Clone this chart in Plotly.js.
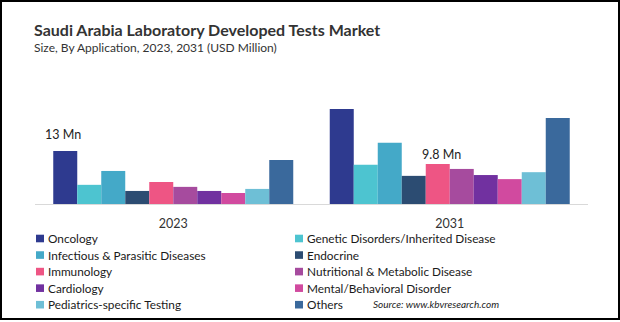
<!DOCTYPE html>
<html>
<head>
<meta charset="utf-8">
<script src="https://cdn.plot.ly/plotly-3.0.1.min.js"></script>
<style>
  html, body { margin: 0; padding: 0; background: #fff; }
  #wrap { position: relative; width: 620px; height: 322px; }
  #chart { position: absolute; left: 0; top: 0; width: 620px; height: 322px; }
  #frame { position: absolute; left: 0; top: 0; width: 620px; height: 320px; box-sizing: border-box; border: 2px solid #000; pointer-events: none; }
</style>
</head>
<body>
<div id="wrap"><div id="chart"></div><div id="frame"></div></div>
<script>
const years = ["2023", "2031"];
const segments = [
  "Oncology",
  "Genetic Disorders/Inherited Disease",
  "Infectious & Parasitic Diseases",
  "Endocrine",
  "Immunology",
  "Nutritional & Metabolic Disease",
  "Cardiology",
  "Mental/Behavioral Disorder",
  "Pediatrics-specific Testing",
  "Others"
];
const values2023 = [13.0, 4.7, 8.1, 3.2, 5.4, 4.2, 3.2, 2.7, 3.7, 10.8];
const values2031 = [23.3, 9.6, 15.0, 6.9, 9.8, 8.6, 7.1, 6.1, 7.8, 21.1];
const colors = ["#2E3A8F", "#4DC4D0", "#44A9C8", "#2C4C72", "#EE5584", "#A64B9E", "#7131A0", "#D14A9F", "#6EBFD6", "#3A699C"];

const FONT = "Lato, 'Open Sans', sans-serif";

// plot-area geometry (pixels) used to place the hand-built legend
const W = 620, H = 322;
const M = { l: 35, r: 32, t: 100, b: 118 };
const PW = W - M.l - M.r, PH = H - M.t - M.b;
const px = (x) => (x - M.l) / PW;
const py = (y) => (H - M.b - y) / PH;

const traces = segments.map((name, i) => ({
  type: "bar",
  name: name,
  x: years,
  y: [values2023[i], values2031[i]],
  marker: { color: colors[i], line: { width: 0 } },
  hoverinfo: "x+y+name",
  showlegend: false
}));

// legend: two columns, row-major order
const legendShapes = [];
const legendTexts = [];
segments.forEach((name, i) => {
  const col = i % 2, row = Math.floor(i / 2);
  const sx = col === 0 ? 36 : 295;
  const cy = 238.5 + row * 16.55;
  legendShapes.push({
    type: "rect", xref: "paper", yref: "paper",
    x0: px(sx), x1: px(sx + 8), y0: py(cy + 3.8), y1: py(cy - 3.8),
    fillcolor: colors[i], line: { width: 0 }, layer: "above"
  });
  legendTexts.push({
    xref: "paper", yref: "paper", x: px(sx + 10), y: py(cy),
    xanchor: "left", yanchor: "middle", showarrow: false,
    text: name, font: { family: FONT, size: 11.8, color: "#1a1a1a" }
  });
});

const layout = {
  width: W,
  height: H,
  margin: { l: M.l, r: M.r, t: M.t, b: M.b, pad: 0, autoexpand: false },
  paper_bgcolor: "#fff",
  plot_bgcolor: "#fff",
  barmode: "group",
  bargap: 0.132,
  bargroupgap: 0,
  showlegend: false,
  font: { family: FONT, color: "#222", size: 13 },
  xaxis: {
    type: "category",
    range: [-0.5, 1.5],
    autorange: false,
    showgrid: false,
    zeroline: false,
    showline: true,
    linecolor: "#D9D9D9",
    linewidth: 1,
    ticks: "",
    tickfont: { family: FONT, size: 12.5, color: "#333" },
    ticklabelstandoff: 8,
    automargin: false,
    fixedrange: true
  },
  yaxis: {
    range: [0, 25.5],
    autorange: false,
    visible: false,
    showgrid: false,
    zeroline: false,
    automargin: false,
    fixedrange: true
  },
  shapes: legendShapes,
  annotations: [
    {
      xref: "paper", yref: "paper", x: -0.005, y: py(41), xanchor: "left", yanchor: "bottom",
      text: "<b>Saudi Arabia Laboratory Developed Tests Market</b>",
      showarrow: false, font: { family: FONT, size: 16, color: "#333" }
    },
    {
      xref: "paper", yref: "paper", x: -0.005, y: py(57), xanchor: "left", yanchor: "bottom",
      text: "Size, By Application, 2023, 2031 (USD Million)",
      showarrow: false, font: { family: FONT, size: 12, color: "#333" }
    },
    {
      x: 0, y: values2023[0], xref: "x", yref: "y",
      text: values2023[0] + " Mn", showarrow: false,
      xanchor: "center", yanchor: "bottom", xshift: -110, yshift: 7,
      font: { family: FONT, size: 12.5, color: "#222" }
    },
    {
      x: 1, y: values2031[4], xref: "x", yref: "y",
      text: values2031[4] + " Mn", showarrow: false,
      xanchor: "center", yanchor: "bottom", xshift: -8, yshift: 0,
      font: { family: FONT, size: 12.5, color: "#222" }
    },
    {
      xref: "paper", yref: "paper", x: px(371), y: py(304), xanchor: "left", yanchor: "middle",
      text: "<i>Source: www.kbvresearch.com</i>",
      showarrow: false, font: { family: FONT, size: 10, color: "#222" }
    }
  ].concat(legendTexts)
};

Plotly.newPlot("chart", traces, layout, { displayModeBar: false, staticPlot: true });
</script>
</body>
</html>
